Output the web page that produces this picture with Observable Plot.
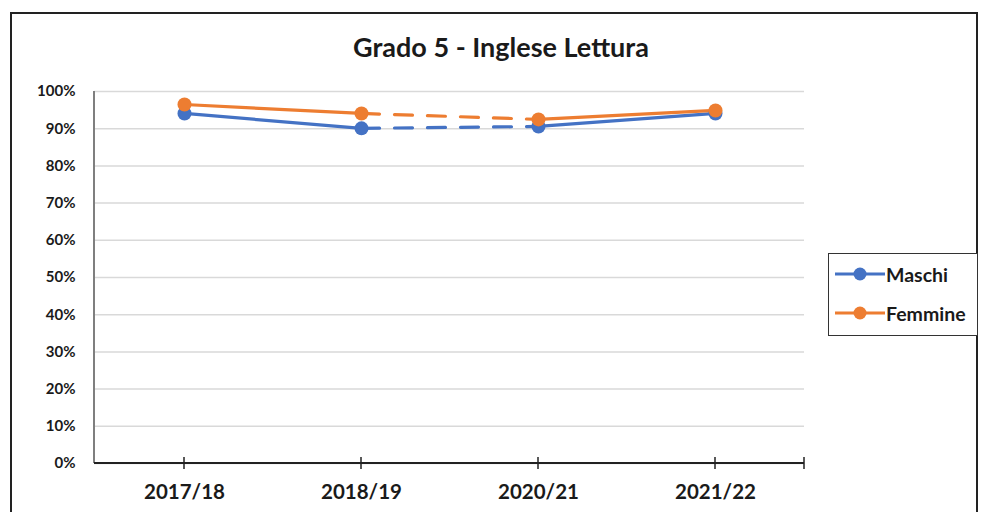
<!DOCTYPE html>
<html>
<head>
<meta charset="utf-8">
<script src="https://cdn.jsdelivr.net/npm/d3@7"></script>
<script src="https://cdn.jsdelivr.net/npm/@observablehq/plot@0.6"></script>
<style>
  html, body { margin: 0; padding: 0; background: #fff; }
  #wrap { position: relative; width: 981px; height: 512px; overflow: hidden; font-family: Lato, "Open Sans", sans-serif; }
  #frame { position: absolute; left: 10px; top: 12px; width: 968px; height: 520px; border: 2px solid #222; box-sizing: border-box; }
  #title { position: absolute; left: 0; width: 1002px; top: 30px; line-height: 34px; text-align: center; font-weight: bold; font-size: 27px; color: #1a1a1a; }
  #chart { position: absolute; left: 0; top: 70px; }
  #legend { position: absolute; left: 828px; top: 253px; width: 150px; height: 83px; border: 1px solid #333; box-sizing: border-box; background: #fff; }
  .item { position: absolute; left: 6px; height: 24px; display: flex; align-items: center; font-weight: bold; font-size: 19.5px; color: #1a1a1a; white-space: nowrap; }
  .item svg { margin-right: 1px; }
</style>
</head>
<body>
<div id="wrap">
  <div id="frame"></div>
  <div id="title">Grado 5 - Inglese Lettura</div>
  <div id="chart"></div>
  <div id="legend"></div>
</div>
<script>
const years = ["2017/18", "2018/19", "2020/21", "2021/22"];
const series = ["Maschi", "Femmine"];
const colors = ["#4472C4", "#ED7D31"];
const maschi = [0.941, 0.901, 0.906, 0.941];
const femmine = [0.965, 0.941, 0.925, 0.949];
const yTicks = [0, 0.1, 0.2, 0.3, 0.4, 0.5, 0.6, 0.7, 0.8, 0.9, 1.0];
// segment style between consecutive years: solid / dashed (gap year)
const segStyle = ["solid", "dashed", "solid"];

const valuesBySeries = {Maschi: maschi, Femmine: femmine};
const points = [];
series.forEach(s => years.forEach((y, i) => points.push({series: s, year: y, value: valuesBySeries[s][i]})));
const segments = [];
series.forEach(s => {
  for (let i = 0; i < years.length - 1; i++) {
    const id = s + "-" + i;
    segments.push({series: s, id, style: segStyle[i], year: years[i], value: valuesBySeries[s][i]});
    segments.push({series: s, id, style: segStyle[i], year: years[i + 1], value: valuesBySeries[s][i + 1]});
  }
});
const solid = segments.filter(d => d.style === "solid");
const dashed = segments.filter(d => d.style === "dashed");

const W = 830, H = 442;
const plot = Plot.plot({
  width: W, height: H,
  marginLeft: 94, marginRight: 26, marginTop: 21, marginBottom: 49,
  style: {fontFamily: "Lato, 'Open Sans', sans-serif", fontWeight: "bold", color: "#1a1a1a", background: "transparent", overflow: "visible"},
  x: {type: "point", domain: years, padding: 0.5, label: null},
  y: {domain: [0, 1], label: null},
  color: {domain: series, range: colors},
  marks: [
    Plot.gridY(yTicks, {stroke: "#d9d9d9", strokeOpacity: 1, strokeWidth: 1.5}),
    Plot.axisY(yTicks, {tickFormat: d3.format(".0%"), tickSize: 0, tickPadding: 19, fontSize: 15, fontWeight: "bold"}),
    Plot.axisX({tickSize: 0, tickPadding: 21, fontSize: 20.5, fontWeight: "bold", textAnchor: "middle"}),
    Plot.line(solid, {x: "year", y: "value", z: "id", stroke: "series", strokeWidth: 3.2}),
    Plot.line(dashed, {x: "year", y: "value", z: "id", stroke: "series", strokeWidth: 3.2, strokeDasharray: "18,15"}),
    Plot.dot(points, {x: "year", y: "value", fill: "series", r: 7})
  ]
});
document.getElementById("chart").appendChild(plot);

// axis lines and crossing tick marks derived from the scales
const xs = plot.scale("x"), ys = plot.scale("y");
const svg = d3.select(plot);
const [x0, x1] = xs.range;
const yb = ys.apply(0), yt = ys.apply(1);
const g = svg.insert("g", "g[aria-label='line']");
g.append("line").attr("x1", x0).attr("x2", x0).attr("y1", yt).attr("y2", yb).attr("stroke", "#7f7f7f").attr("stroke-width", 2);
g.append("line").attr("x1", x0).attr("x2", x1).attr("y1", yb).attr("y2", yb).attr("stroke", "#222").attr("stroke-width", 2);
years.concat([null]).forEach(y => {
  const x = y === null ? x1 : xs.apply(y);
  g.append("line").attr("x1", x).attr("x2", x).attr("y1", yb - 6).attr("y2", yb + 6).attr("stroke", "#222").attr("stroke-width", 1.5);
});

// legend
const legend = document.getElementById("legend");
series.forEach((s, i) => {
  const item = document.createElement("div");
  item.className = "item";
  item.style.top = (8 + i * 39) + "px";
  item.innerHTML = `<svg width="50" height="16"><line x1="0" x2="50" y1="8" y2="8" stroke="${colors[i]}" stroke-width="3.2"/><circle cx="25" cy="8" r="6.5" fill="${colors[i]}"/></svg><span>${s}</span>`;
  legend.appendChild(item);
});
</script>
</body>
</html>
